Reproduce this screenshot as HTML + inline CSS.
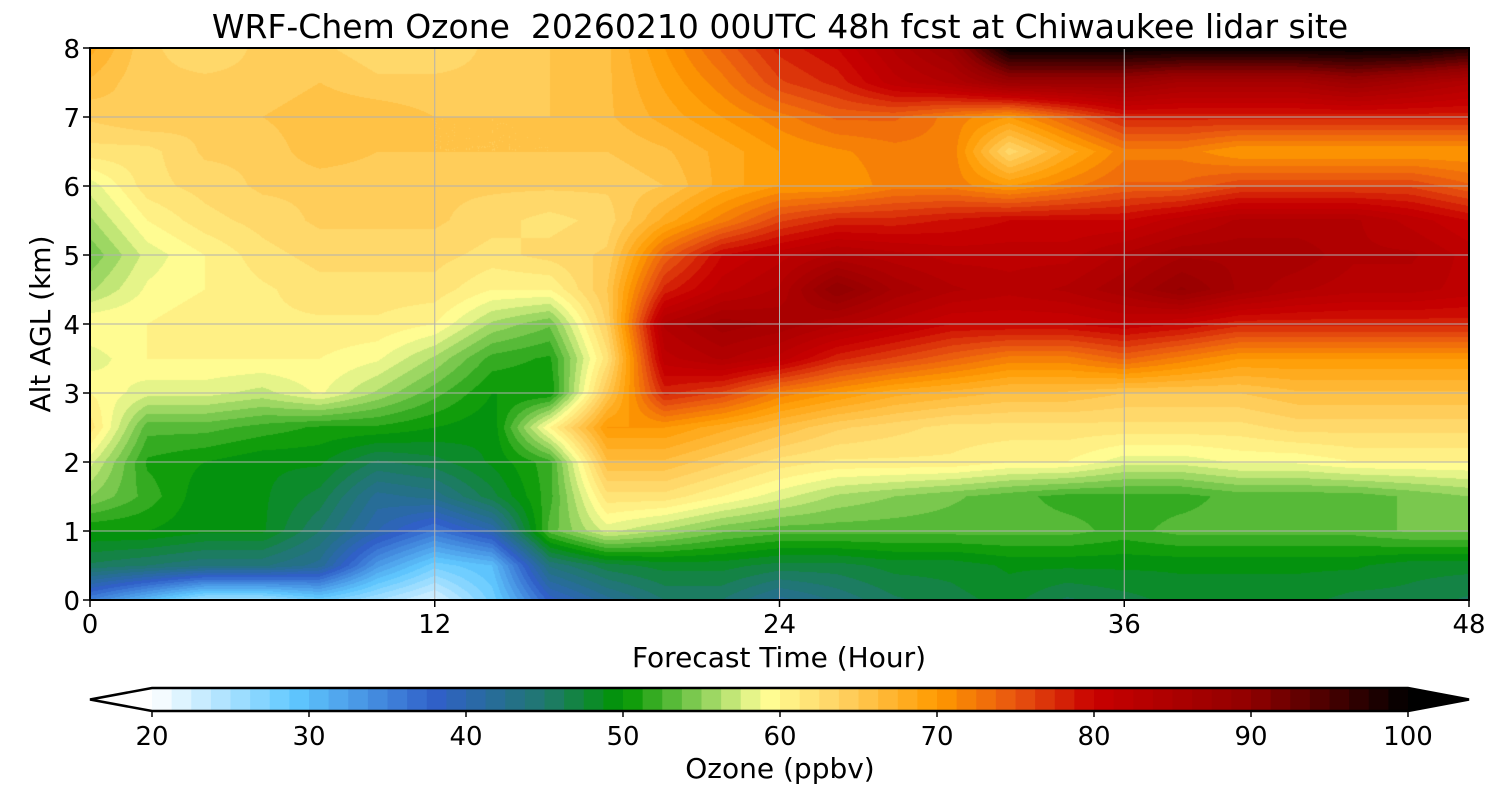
<!DOCTYPE html>
<html><head><meta charset="utf-8"><style>
body{margin:0;background:#fff;font-family:"DejaVu Sans",sans-serif}
#wrap{position:relative;width:1500px;height:800px}
.t{position:absolute;color:#000;white-space:nowrap}
</style></head><body>
<div id="wrap">
<div class="t" style="left:0;width:1560px;text-align:center;top:7px;font-size:33px;font-family:'DejaVu Sans',sans-serif">WRF-Chem Ozone&nbsp; 20260210 00UTC 48h fcst at Chiwaukee lidar site</div>
<canvas id="cv" width="1379" height="552" style="position:absolute;left:90px;top:48px"></canvas>
<svg id="sv" width="1500" height="800" style="position:absolute;left:0;top:0"></svg>
</div>
<script>
const hours=[0,2,4,6,8,10,12,14,16,18,20,22,24,26,28,30,32,34,36,38,40,42,44,46,48];
const alts=[0,0.5,1,1.5,2,2.5,3,3.5,4,4.5,5,5.5,6,6.5,7,7.5,8];
const z0=[35,30,25,25,28,25,22,28,38,42,45,45,42,44,46,47,48,46,47,48,48,48,47,47,46];
const z05=[46,45,44,44,42,33,28,30,44,47,48,48,47,47,48,48,49,49,49,49,49,49,49,48,48];
const z10=[50,50,49,49,45,40,36,40,53,58,56,54,53,53,53,53,53,53,52,53,53,53,53,54,54];
const z15=[55,52,49,49,47,42,43,47,52,62,62,60,58,56,55,54,53,52,52,52,53,53,53,54,55];
const z20=[58,51,50,49,49,46,47,49,52,66,66,64,62,61,61,61,60,60,58,58,59,59,60,60,60];
const z25=[62,53,53,52,51,51,50,49,60,70,70,68,66,64,63,62,62,62,62,62,62,63,63,63,63];
const z30=[60,58,58,57,59,56,53,50,50,65,78,76,72,70,68,67,66,66,65,65,65,66,66,66,66];
const z35=[58,60,60,60,60,59,56,52,51,62,82,84,82,78,76,74,72,72,74,72,70,70,70,70,70];
const z40=[60,60,61,61,61,61,60,56,54,64,84,87,86,84,82,80,80,80,81,80,78,78,78,78,78];
const z45=[56,59,60,61,62,62,62,60,60,65,78,82,84,90,86,84,83,84,86,89,86,84,83,83,82];
const z50=[54,58,60,62,63,63,63,62,63,64,74,80,82,84,83,82,82,82,84,86,86,86,84,84,82];
const z55=[56,60,62,63,64,64,64,63,62,63,68,72,76,78,78,79,80,80,80,82,84,84,84,82,80];
const z60=[58,62,63,64,64,64,64,64,64,64,65,68,70,70,72,72,70,72,74,74,76,76,76,76,74];
const z65=[62,62,64,64,66,65,65,65,65,65,66,68,70,71,72,72,63,68,72,72,70,70,70,70,70];
const z70=[64,65,64,65,66,66,65,65,65,66,68,70,72,74,74,72,70,74,78,78,78,78,78,78,78];
const z75=[66,64,64,64,65,64,64,64,65,66,69,72,76,78,82,84,88,88,88,86,86,86,88,86,84];
const z80=[68,64,63,64,64,63,63,64,65,66,70,74,78,80,84,88,100,100,100,100,100,100,100,100,98];
const grid=[z0,z05,z10,z15,z20,z25,z30,z35,z40,z45,z50,z55,z60,z65,z70,z75,z80];
const xTicks=[0,12,24,36,48];
const yTicks=[0,1,2,3,4,5,6,7,8];
const cbTicks=[20,30,40,50,60,70,80,90,100];

const stops=[[20,[255,255,255]],[29,[96,200,255]],[38,[48,96,200]],[45,[32,120,110]],[50,[0,150,0]],[55,[140,208,90]],[59,[255,255,150]],[64,[255,208,96]],[70,[255,154,0]],[75,[232,84,16]],[80,[200,0,0]],[90,[144,0,0]],[100,[0,0,0]]];
function cmap(v){v=Math.max(20,Math.min(100,v));v=20+Math.floor((v-20)/1.25)*1.25+0.6;
 for(let i=0;i<stops.length-1;i++){const a=stops[i],b=stops[i+1];if(v<=b[0]){const f=(v-a[0])/(b[0]-a[0]);return a[1].map((c,k)=>Math.round(c+(b[1][k]-c)*f));}}return [0,0,0];}
const X0=90,X1=1469,Y0=600,Y1=48;
const xs=h=>X0+(h-0)/48*(X1-X0), ys=a=>Y0-(a/8)*(Y0-Y1);
const cv=document.getElementById('cv'),ctx=cv.getContext('2d');
const W=cv.width,H=cv.height,img=ctx.createImageData(W,H);
const nC=hours.length-1,nR=alts.length-1;
for(let py=0;py<H;py++){const a=(H-0.5-py)/H*8;let r=Math.min(nR-1,Math.floor(a/0.5));const fy=(a-alts[r])/(alts[r+1]-alts[r]);
 for(let px=0;px<W;px++){const h=(px+0.5)/W*48;let c=Math.min(nC-1,Math.floor(h/2));const fx=(h-hours[c])/(hours[c+1]-hours[c]);
  const v=grid[r][c]*(1-fx)*(1-fy)+grid[r][c+1]*fx*(1-fy)+grid[r+1][c]*(1-fx)*fy+grid[r+1][c+1]*fx*fy;
  const col=cmap(v),i=(py*W+px)*4;img.data[i]=col[0];img.data[i+1]=col[1];img.data[i+2]=col[2];img.data[i+3]=255;}}
ctx.putImageData(img,0,0);
const NS='http://www.w3.org/2000/svg',sv=document.getElementById('sv');
const FF='DejaVu Sans';
function mk(t,at,txt){const e=document.createElementNS(NS,t);for(const k in at)e.setAttribute(k,at[k]);if(txt!==undefined)e.textContent=txt;sv.appendChild(e);return e;}
xTicks.forEach(h=>{const x=xs(h);
 const g=mk('line',{x1:x,x2:x,y1:Y1,y2:Y0,stroke:'#b0b0b0','stroke-width':1});
 
 
 mk('line',{x1:x,x2:x,y1:Y0,y2:Y0+7,stroke:'#000','stroke-width':1.5});
 const t=mk('text',{x:x,y:633,'text-anchor':'middle','font-size':26,'font-family':FF},h);
 
 });
yTicks.forEach(a=>{const y=ys(a);
 const g=mk('line',{x1:X0,x2:X1,y1:y,y2:y,stroke:'#b0b0b0','stroke-width':1});
 
 
 mk('line',{x1:X0-7,x2:X0,y1:y,y2:y,stroke:'#000','stroke-width':1.5});
 const t=mk('text',{x:X0-10,y:y+10,'text-anchor':'end','font-size':26,'font-family':FF},a);
 
 });
const fr=mk('rect',{x:X0,y:Y1,width:X1-X0,height:Y0-Y1,fill:'none',stroke:'#000','stroke-width':2});


const xl=mk('text',{x:779,y:667,'text-anchor':'middle','font-size':28,'font-family':FF},'Forecast Time (Hour)');


const yl=mk('text',{x:50,y:324,'text-anchor':'middle','font-size':28,'font-family':FF,transform:'rotate(-90 50 324)'},'Alt AGL (km)');


// colorbar
const C0=152,C1=1408,CT=688,CB=711,cx=v=>C0+(v-20)/80*(C1-C0);
for(let v=20;v<100;v+=1.25){const c=cmap(v+0.1);
 const r=mk('rect',{x:cx(v),y:CT,width:(C1-C0)/64+0.6,height:CB-CT,fill:`rgb(${c})`});
 
 }
mk('polygon',{points:`${C0},${CT} 90,${(CT+CB)/2} ${C0},${CB}`,fill:'#fff'});
mk('polygon',{points:`${C1},${CT} 1469,${(CT+CB)/2} ${C1},${CB}`,fill:'#000'});
const ol=mk('polygon',{points:`${C0},${CT} ${C1},${CT} 1469,${(CT+CB)/2} ${C1},${CB} ${C0},${CB} 90,${(CT+CB)/2}`,fill:'none',stroke:'#000','stroke-width':2.5});


cbTicks.forEach(v=>{const x=cx(v);mk('line',{x1:x,x2:x,y1:CB,y2:CB+6,stroke:'#000','stroke-width':1.5});
 const t=mk('text',{x:x,y:745,'text-anchor':'middle','font-size':26,'font-family':FF},v);
 
 });
const cl=mk('text',{x:780,y:778,'text-anchor':'middle','font-size':28,'font-family':FF,'xml:space':'preserve'},'Ozone  (ppbv)');


</script>
</body></html>
